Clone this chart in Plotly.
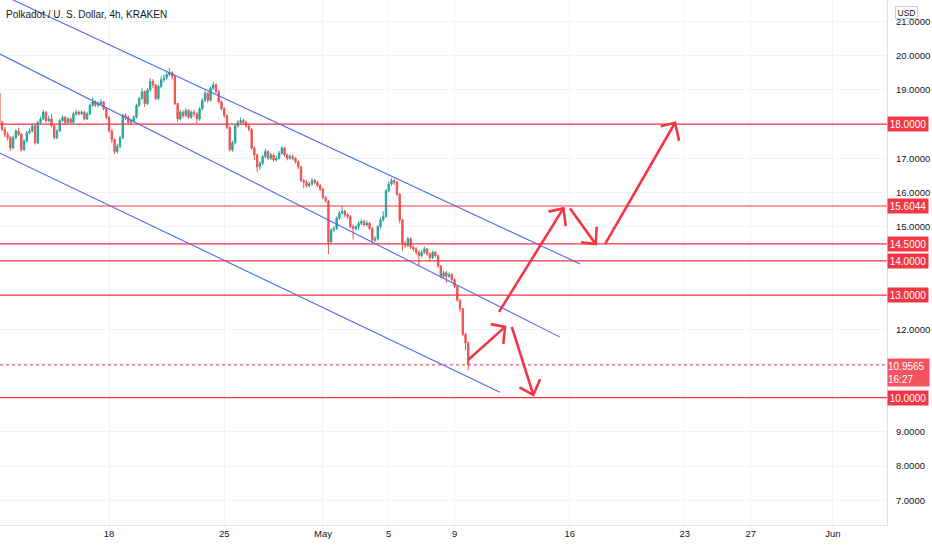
import pandas as pd
import plotly.graph_objects as go

# %% Data (DOT/USD, 4h candles, KRAKEN)
first_open = 18.90
closes = [
    18.05, 17.85, 17.70, 17.60, 17.30, 17.60, 17.80, 17.70, 17.25, 17.50,
    17.75, 17.80, 17.95, 17.45, 18.05, 18.15, 18.35, 18.10, 18.15, 17.95,
    17.60, 17.80, 18.10, 18.20, 18.05, 18.15, 18.05, 18.30, 18.35, 18.30,
    18.35, 18.15, 18.30, 18.55, 18.65, 18.55, 18.60, 18.65, 18.45, 18.20,
    17.80, 17.55, 17.20, 17.35, 17.60, 18.25, 18.20, 18.05, 18.10, 18.20,
    18.55, 18.75, 18.95, 18.60, 19.00, 19.25, 19.15, 18.75, 19.10, 19.30,
    19.35, 19.45, 19.50, 19.40, 18.60, 18.15, 18.35, 18.25, 18.40, 18.20,
    18.35, 18.30, 18.15, 18.45, 18.70, 18.90, 18.70, 19.05, 19.15, 18.95,
    18.65, 18.45, 18.25, 17.90, 17.25, 17.45, 17.95, 18.05, 18.10, 18.05,
    17.95, 17.85, 17.30, 17.10, 16.75, 16.85, 17.05, 17.20, 17.00, 17.10,
    16.95, 17.00, 17.15, 17.30, 17.10, 17.00, 17.05, 17.00, 16.90, 16.75,
    16.35, 16.30, 16.20, 16.25, 16.35, 16.30, 16.20, 16.10, 15.85, 15.75,
    14.55, 14.90, 14.95, 15.25, 15.40, 15.45, 15.35, 15.30, 15.00, 14.95,
    15.00, 15.10, 15.15, 15.05, 15.10, 14.95, 14.60, 14.65, 15.00, 15.20,
    15.30, 16.05, 16.25, 16.35, 16.30, 15.95, 15.20, 14.50, 14.45, 14.65,
    14.40, 14.35, 14.25, 14.15, 14.25, 14.35, 14.20, 14.10, 14.25, 14.15,
    13.85, 13.55, 13.65, 13.55, 13.60, 13.45, 13.25, 12.85, 12.60, 11.85,
    11.60, 10.9565,
]
highs = [
    18.95, 18.10, 17.92, 17.78, 17.65, 17.66, 17.86, 17.90, 17.74, 17.56,
    17.80, 17.88, 18.02, 17.98, 18.10, 18.22, 18.42, 18.38, 18.25, 18.30,
    17.98, 17.86, 18.14, 18.26, 18.24, 18.20, 18.20, 18.36, 18.42, 18.40,
    18.40, 18.38, 18.35, 18.60, 18.78, 18.70, 18.66, 18.72, 18.68, 18.50,
    18.24, 17.85, 17.58, 17.42, 17.66, 18.30, 18.32, 18.24, 18.16, 18.26,
    18.60, 18.80, 19.05, 18.98, 19.06, 19.35, 19.32, 19.18, 19.15, 19.40,
    19.45, 19.52, 19.64, 19.55, 19.42, 18.62, 18.42, 18.40, 18.46, 18.44,
    18.40, 18.42, 18.34, 18.50, 18.76, 18.98, 18.94, 19.10, 19.25, 19.20,
    19.00, 18.70, 18.50, 18.28, 17.95, 17.52, 18.00, 18.12, 18.20, 18.16,
    18.10, 18.00, 17.88, 17.35, 17.14, 16.92, 17.10, 17.28, 17.24, 17.16,
    17.14, 17.08, 17.22, 17.36, 17.34, 17.14, 17.12, 17.10, 17.04, 16.94,
    16.78, 16.40, 16.36, 16.32, 16.42, 16.40, 16.34, 16.25, 16.14, 15.90,
    15.78, 14.96, 15.02, 15.30, 15.46, 15.60, 15.50, 15.40, 15.34, 15.06,
    15.05, 15.16, 15.22, 15.20, 15.18, 15.14, 14.98, 14.72, 15.05, 15.28,
    15.45, 16.10, 16.32, 16.42, 16.40, 16.34, 15.98, 15.24, 14.58, 14.70,
    14.68, 14.45, 14.40, 14.30, 14.32, 14.42, 14.38, 14.25, 14.30, 14.28,
    14.18, 13.88, 13.72, 13.70, 13.66, 13.64, 13.50, 13.28, 12.88, 12.62,
    11.90, 11.64,
]
lows = [
    17.98, 17.80, 17.62, 17.52, 17.22, 17.26, 17.55, 17.65, 17.20, 17.22,
    17.46, 17.70, 17.76, 17.40, 17.42, 18.00, 18.10, 18.05, 18.06, 17.90,
    17.55, 17.56, 17.76, 18.05, 18.00, 18.00, 18.02, 18.02, 18.25, 18.26,
    18.26, 18.10, 18.12, 18.26, 18.50, 18.50, 18.50, 18.55, 18.40, 18.15,
    17.75, 17.45, 17.12, 17.15, 17.30, 17.56, 18.12, 18.00, 18.00, 18.05,
    18.16, 18.50, 18.70, 18.50, 18.56, 18.95, 19.05, 18.70, 18.70, 19.05,
    19.22, 19.30, 19.40, 19.30, 18.55, 18.07, 18.10, 18.18, 18.20, 18.15,
    18.15, 18.22, 18.02, 18.10, 18.40, 18.65, 18.62, 18.66, 19.00, 18.90,
    18.60, 18.40, 18.18, 17.85, 17.20, 17.19, 17.40, 17.90, 18.00, 17.98,
    17.90, 17.78, 17.25, 16.95, 16.60, 16.66, 16.80, 17.00, 16.94, 16.95,
    16.90, 16.90, 16.96, 17.10, 17.05, 16.94, 16.95, 16.94, 16.85, 16.68,
    16.30, 16.12, 16.14, 16.15, 16.20, 16.25, 16.15, 16.05, 15.80, 15.70,
    14.20, 14.50, 14.85, 14.90, 15.20, 15.35, 15.28, 15.22, 14.95, 14.62,
    14.88, 14.90, 15.05, 15.00, 15.00, 14.90, 14.55, 14.55, 14.60, 14.95,
    15.15, 15.25, 16.00, 16.20, 16.22, 15.90, 15.10, 14.30, 14.38, 14.40,
    14.35, 14.28, 14.18, 13.83, 14.10, 14.20, 14.15, 13.98, 14.05, 14.10,
    13.80, 13.50, 13.50, 13.35, 13.50, 13.40, 13.20, 12.80, 12.50, 11.80,
    11.40, 10.80,
]
times = pd.date_range("2022-04-11 08:00", periods=len(closes), freq="4h")
opens = [first_open] + closes[:-1]

# horizontal levels drawn on the chart
levels = [18.0, 15.6044, 14.5, 14.0, 13.0, 10.0]
level_labels = ["18.0000", "15.6044", "14.5000", "14.0000", "13.0000", "10.0000"]
last_price = 10.9565
last_label = "10.9565<br>16:27"

# descending channel (start, end)
channel_x = [["2022-04-11 08:53", "2022-05-16 15:05"],
             ["2022-04-11 08:53", "2022-05-15 09:53"],
             ["2022-04-11 08:53", "2022-05-11 18:23"]]
channel_y = [[21.81, 13.91], [20.05, 11.77], [17.15, 10.16]]

# projected path arrows: tail, tip, two head wings
arrow_tail = [("2022-05-09 19:40", 11.10), ("2022-05-12 11:29", 12.07), ("2022-05-11 16:53", 12.51),
              ("2022-05-16 00:29", 15.535), ("2022-05-18 03:35", 14.49)]
arrow_tip = [("2022-05-12 01:40", 12.07), ("2022-05-13 18:59", 10.08), ("2022-05-15 14:47", 15.535),
             ("2022-05-17 13:59", 14.49), ("2022-05-22 09:41", 18.04)]
arrow_wing_a = [("2022-05-11 04:45", 12.15), ("2022-05-12 22:35", 10.30), ("2022-05-14 16:53", 15.44),
                ("2022-05-16 16:35", 14.54), ("2022-05-21 12:47", 17.94)]
arrow_wing_b = [("2022-05-11 23:10", 11.57), ("2022-05-14 04:47", 10.54), ("2022-05-15 18:17", 15.02),
                ("2022-05-17 15:29", 15.00), ("2022-05-22 15:35", 17.51)]

x_tickvals = ["2022-04-18", "2022-04-25", "2022-05-01", "2022-05-05", "2022-05-09",
              "2022-05-16", "2022-05-23", "2022-05-27", "2022-06-01"]
x_ticktext = ["18", "25", "May", "5", "9", "16", "23", "27", "Jun"]
y_tickvals = list(range(7, 22))
# axis labels hidden under a price tag are left blank
hidden_ticks = [18, 14, 13, 11, 10]
y_ticktext = ["" if v in hidden_ticks else f"{v:.4f}" for v in y_tickvals]

RED = "#f23645"
FONT = "Liberation Sans, Arial, sans-serif"

# %% Figure
fig = go.Figure()

for cx, cy in zip(channel_x, channel_y):
    fig.add_trace(go.Scatter(x=cx, y=cy, mode="lines",
                             line=dict(color="#4a6cf0", width=1.1), hoverinfo="skip"))

fig.add_trace(go.Candlestick(
    x=times, open=opens, high=highs, low=lows, close=closes,
    increasing=dict(line=dict(color="#26a69a", width=1), fillcolor="#26a69a"),
    decreasing=dict(line=dict(color="#ef5350", width=1), fillcolor="#ef5350"),
    whiskerwidth=0,
))

for tail, tip, wa, wb in zip(arrow_tail, arrow_tip, arrow_wing_a, arrow_wing_b):
    fig.add_trace(go.Scatter(
        x=[tail[0], tip[0], None, wa[0], tip[0], wb[0]],
        y=[tail[1], tip[1], None, wa[1], tip[1], wb[1]],
        mode="lines", line=dict(color=RED, width=2.6), hoverinfo="skip"))

# level lines + price tags
for lvl, txt in zip(levels, level_labels):
    fig.add_shape(type="line", xref="paper", x0=0, x1=1, yref="y", y0=lvl, y1=lvl,
                  line=dict(color=RED, width=1.2), layer="above")
    fig.add_annotation(xref="paper", x=1, xanchor="left", yref="y", y=lvl, text=txt,
                       showarrow=False, bgcolor=RED, borderpad=0, width=40, height=14,
                       font=dict(color="white", size=10, family=FONT))

fig.add_shape(type="line", xref="paper", x0=0, x1=1, yref="y", y0=last_price, y1=last_price,
              line=dict(color=RED, width=1, dash="dot"))
fig.add_annotation(xref="paper", x=1, xanchor="left", yref="y", y=last_price, yanchor="top",
                   yshift=7, text=last_label, showarrow=False, bgcolor="#f4535f", borderpad=0,
                   width=41, height=27, align="left",
                   font=dict(color="white", size=10, family=FONT))

fig.add_annotation(xref="paper", x=1.0225, xanchor="center", yref="paper", y=0.976,
                   yanchor="middle", text="USD", showarrow=False, bgcolor="white",
                   bordercolor="#c9ccd3", borderwidth=1, borderpad=0, width=21, height=11,
                   font=dict(color="#131722", size=8.5, family=FONT))

fig.add_annotation(xref="paper", x=0.005, xanchor="left", yref="paper", y=0.972,
                   yanchor="middle", text="Polkadot / U. S. Dollar, 4h, KRAKEN", showarrow=False,
                   font=dict(color="#131722", size=10, family=FONT))

fig.update_xaxes(
    range=["2022-04-11 08:53", "2022-06-04 06:53"],
    tickvals=x_tickvals, ticktext=x_ticktext,
    showgrid=True, gridcolor="#f0f3fa", rangeslider=dict(visible=False),
    showline=True, linecolor="#e0e3eb", linewidth=1,
    tickfont=dict(color="#131722", size=9.5, family=FONT), ticks="",
)
fig.update_yaxes(
    range=[6.275, 21.63], side="right",
    tickvals=y_tickvals, ticktext=y_ticktext,
    showgrid=True, gridcolor="#f0f3fa", zeroline=False,
    showline=True, linecolor="#e0e3eb", linewidth=1,
    tickfont=dict(color="#131722", size=9.5, family=FONT), ticks="",
    ticklabelstandoff=6,
)

fig.update_layout(
    width=932, height=550,
    margin=dict(l=0, r=45, t=0, b=25),
    plot_bgcolor="white", paper_bgcolor="white",
    showlegend=False, hovermode=False,
)

# page body has a default 8px margin; drop it so the chart sits at the window origin
fig.write_html("out.html", config={"displayModeBar": False},
               post_script="document.body.style.margin='0px';")
